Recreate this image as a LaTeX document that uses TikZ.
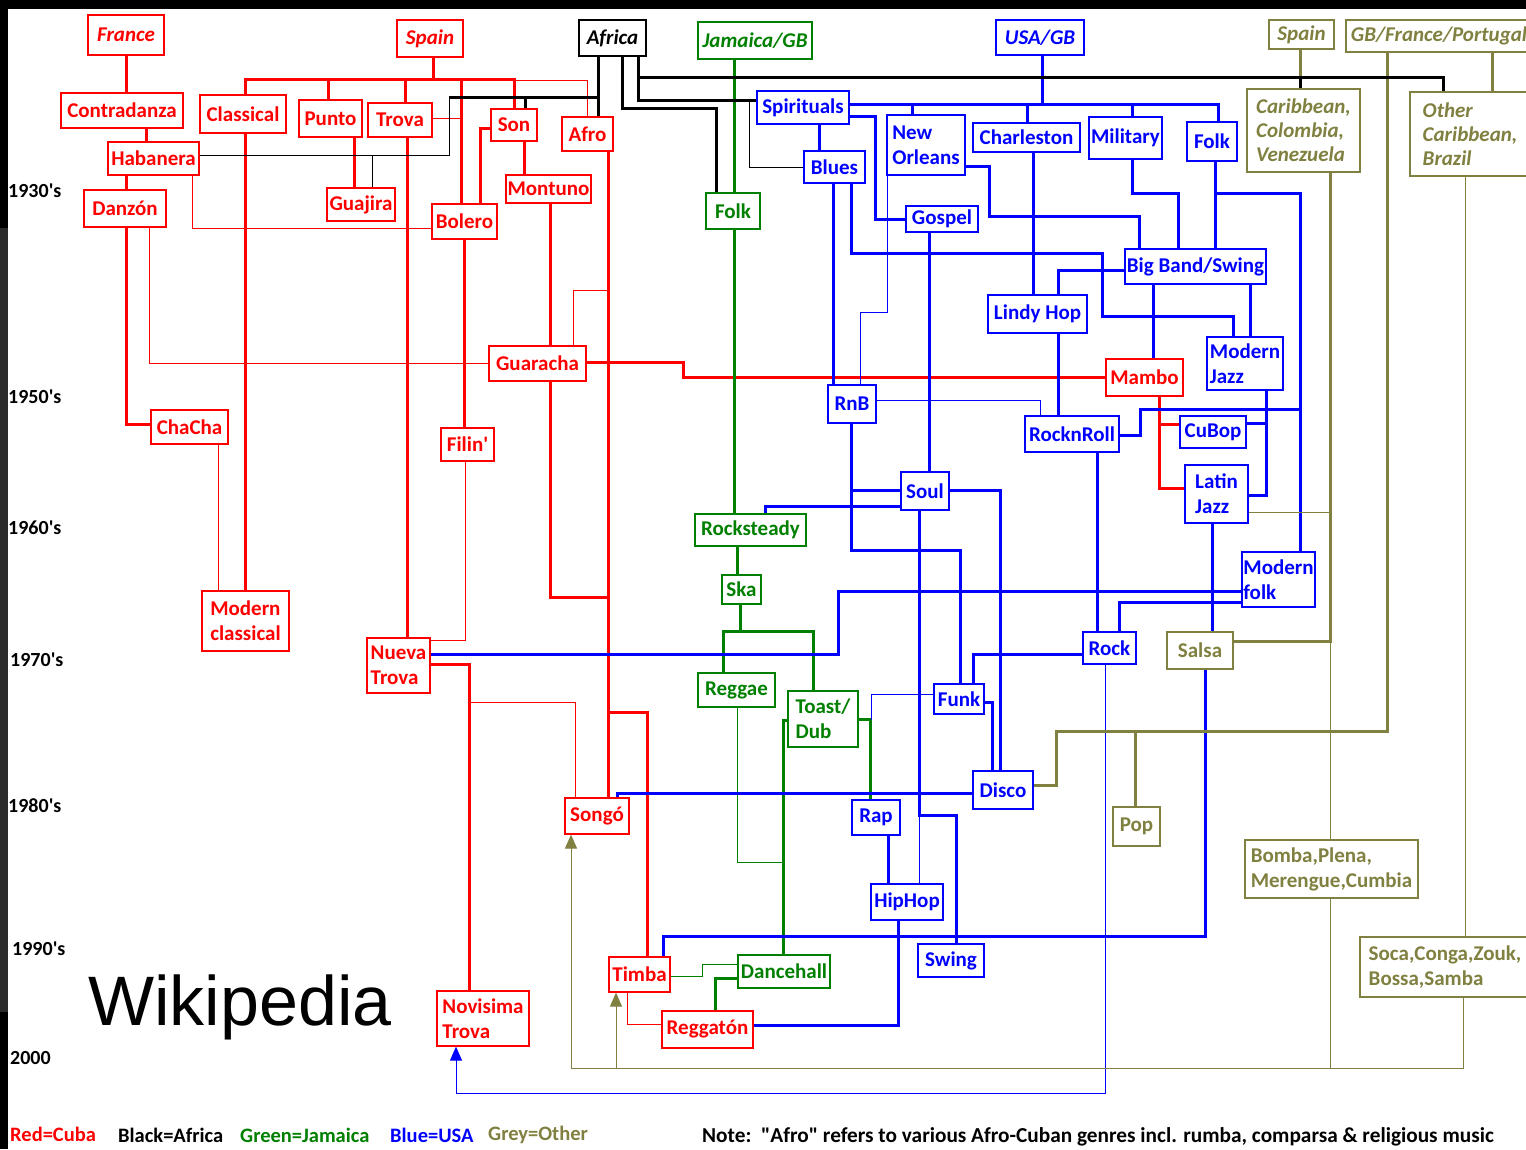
\documentclass[tikz,border=0pt]{standalone}
\usepackage{fontspec}
\setmainfont{Carlito}
\newfontfamily\wikifont{Liberation Sans}
\usetikzlibrary{arrows.meta,backgrounds}
\definecolor{cuba}{HTML}{FF0000}
\definecolor{usa}{HTML}{0000FF}
\definecolor{jam}{HTML}{008000}
\definecolor{oth}{HTML}{808040}
\definecolor{rim}{HTML}{2B2B2B}

\begin{document}
\begin{tikzpicture}[x=1pt,y=-1pt,
 gbox/.style={draw,line width=1.2pt,fill=white,inner sep=0pt,align=left,font=\bfseries\fontsize{21}{25}\selectfont},
 cu/.style={gbox,draw=cuba,text=cuba},
 af/.style={gbox,draw=black,text=black},
 ja/.style={gbox,draw=jam,text=jam},
 us/.style={gbox,draw=usa,text=usa},
 ot/.style={gbox,draw=oth,text=oth},
 orig/.style={font=\bfseries\itshape\fontsize{21}{24}\selectfont},
 wh/.style 2 args={minimum width=#1,minimum height=#2},
 decade/.style={anchor=west,inner sep=0pt,font=\bfseries\fontsize{20}{22}\selectfont},
 keytext/.style={anchor=west,inner sep=0pt,font=\bfseries\fontsize{20.5}{22}\selectfont},
 cuT/.style={cuba,line width=3pt}, cut/.style={cuba,line width=1pt},
 afT/.style={black,line width=3pt}, aft/.style={black,line width=1pt},
 jaT/.style={jam,line width=3pt}, jat/.style={jam,line width=1pt},
 usT/.style={usa,line width=3pt}, ust/.style={usa,line width=1pt},
 otT/.style={oth,line width=3pt}, ott/.style={oth,line width=1pt},
 arrowup/.style={-{Triangle[length=14pt,width=12pt]}}]
\useasboundingbox (0,0) rectangle (1526,1149);

% Cuba
\node[cu,orig,wh={76}{40}] (france) at (126,35) {France};
\node[cu,orig,wh={66}{37}] (spain) at (430,38.5) {Spain};
\node[cu,wh={122}{35}] (contra) at (122,110.5) {Contradanza};
\node[cu,wh={86}{38}] (classical) at (243,114) {Classical};
\node[cu,wh={63}{37}] (punto) at (330.5,118.5) {Punto};
\node[cu,wh={64}{34}] (trova) at (400,120) {Trova};
\node[cu,wh={91}{33}] (haban) at (153.5,158.5) {Habanera};
\node[cu,wh={82}{37}] (danzon) at (125,208.5) {Danzón};
\node[cu,wh={68}{33}] (guajira) at (361,204.5) {Guajira};
\node[cu,wh={46}{32}] (son) at (514,125) {Son};
\node[cu,wh={51}{34}] (afro) at (587.5,134) {Afro};
\node[cu,wh={85}{28}] (montuno) at (548.5,189) {Montuno};
\node[cu,wh={65}{35}] (bolero) at (464.5,221.5) {Bolero};
\node[cu,wh={97}{35}] (guaracha) at (537.5,363.5) {Guaracha};
\node[cu,wh={53}{33}] (filin) at (467.5,444.5) {Filin\textquotesingle};
\node[cu,wh={77}{34}] (chacha) at (189.5,427) {ChaCha};
\node[cu,wh={87}{60}] (modclass) at (245.5,621) {Modern\\classical};
\node[cu,wh={63}{55}] (nueva) at (398.5,665.5) {Nueva\\Trova};
\node[cu,wh={77}{37}] (mambo) at (1144.5,377.5) {Mambo};
\node[cu,wh={64}{36}] (songo) at (597,816) {Songó};
\node[cu,wh={61}{35}] (timba) at (639.5,974.5) {Timba};
\node[cu,wh={91}{37}] (reggaton) at (707.5,1029.5) {Reggatón};
\node[cu,wh={92}{55}] (novisima) at (483,1018.5) {Novisima\\Trova};

% Africa
\node[af,orig,wh={67}{36}] (africa) at (612.5,38) {Africa};

% Jamaica
\node[ja,orig,wh={114}{37}] (jamgb) at (755,40.5) {Jamaica/GB};
\node[ja,wh={54}{36}] (jfolk) at (733,211) {Folk};
\node[ja,wh={111}{32}] (rocksteady) at (750.5,530) {Rocksteady};
\node[ja,wh={39}{29}] (ska) at (741.5,589.5) {Ska};
\node[ja,wh={77}{34}] (reggae) at (736.5,690) {Reggae};
\node[ja,wh={70}{56}] (toast) at (823,719) {Toast/\\Dub};
\node[ja,wh={92}{33}] (dancehall) at (784,971.5) {Dancehall};

% USA
\node[us,orig,wh={88}{35}] (usagb) at (1040,37.5) {USA/GB};
\node[us,wh={92}{33}] (spirit) at (803,107.5) {Spirituals};
\node[us,wh={78}{60}] (neworl) at (926,145) {New\\Orleans};
\node[us,wh={107}{29}] (charles) at (1026.5,137.5) {Charleston};
\node[us,wh={73}{42}] (military) at (1125.5,138) {Military};
\node[us,wh={61}{32}] (blues) at (834.5,167) {Blues};
\node[us,wh={50}{39}] (ufolk) at (1212,141.5) {Folk};
\node[us,wh={72}{26}] (gospel) at (942,219) {Gospel};
\node[us,wh={141}{35}] (bigband) at (1195.5,266.5) {Big Band/Swing};
\node[us,wh={99}{38}] (lindy) at (1037.5,314) {Lindy Hop};
\node[us,wh={76}{53}] (modjazz) at (1245,363.5) {Modern\\Jazz};
\node[us,wh={48}{38}] (rnb) at (852,404) {RnB};
\node[us,wh={94}{36}] (rocknroll) at (1072,434) {RocknRoll};
\node[us,wh={66}{32}] (cubop) at (1213,432) {CuBop};
\node[us,wh={63}{58}] (latjazz) at (1216.5,494) {Latin\\Jazz};
\node[us,wh={48}{38}] (soul) at (925,491) {Soul};
\node[us,wh={73}{55}] (modfolk) at (1278.5,579.5) {Modern\\folk};
\node[us,wh={53}{32}] (rock) at (1109.5,648) {Rock};
\node[us,wh={50}{30}] (funk) at (959,699) {Funk};
\node[us,wh={60}{38}] (disco) at (1003,790) {Disco};
\node[us,wh={48}{35}] (rap) at (876,817.5) {Rap};
\node[us,wh={72}{36}] (hiphop) at (907,902) {HipHop};
\node[us,wh={66}{33}] (swing) at (951,960.5) {Swing};

% Other
\node[ot,orig,wh={65}{29}] (ospain) at (1301.5,34.5) {Spain};
\node[ot,orig,wh={186}{32}] (gbfp) at (1439,36) {GB/France/Portugal};
\node[ot,orig,wh={113}{83}] (carib) at (1303.5,130.5) {Caribbean,\\Colombia,\\Venezuela};
\node[ot,orig,wh={120}{84}] (othcarib) at (1470,134) {Other\\Caribbean,\\Brazil};
\node[ot,wh={66}{37}] (salsa) at (1200,650.5) {Salsa};
\node[ot,wh={47}{39}] (pop) at (1136.5,826.5) {Pop};
\node[ot,wh={173}{58}] (bomba) at (1331.5,869) {Bomba,Plena,\\Merengue,Cumbia};
\node[ot,wh={170}{60}] (soca) at (1445,967) {Soca,Conga,Zouk,\\Bossa,Samba};

% decades and key
\node[decade] (d30) at (8,191) {1930\textquotesingle s};
\node[decade] (d50) at (8,397) {1950\textquotesingle s};
\node[decade] (d60) at (8,528) {1960\textquotesingle s};
\node[decade] (d70) at (10,660) {1970\textquotesingle s};
\node[decade] (d80) at (8,806) {1980\textquotesingle s};
\node[decade] (d90) at (12,949) {1990\textquotesingle s};
\node[decade] (d00) at (10,1058) {2000};
\node[anchor=base west,inner sep=0pt,font=\wikifont\fontsize{70}{70}\selectfont] (wiki) at (88,1025) {Wikipedia};
\node[keytext,text=cuba] (kcuba) at (10,1134) {Red=Cuba};
\node[keytext] (kafrica) at (118,1135) {Black=Africa};
\node[keytext,text=jam] (kjam) at (240,1135) {Green=Jamaica};
\node[keytext,text=usa] (kusa) at (390,1135) {Blue=USA};
\node[keytext,text=oth] (koth) at (488,1135) {Grey=Other};
\node[keytext,font=\bfseries\fontsize{21.3}{22}\selectfont] (note) at (702,1137) {Note:~~\textquotedbl Afro\textquotedbl\ refers to various Afro-Cuban genres incl. rumba, comparsa \& religious music};

\begin{scope}[on background layer]
\fill[white] (0,0) rectangle (1526,1149);
\fill[black] (0,0) rectangle (1526,9);
\fill[black] (0,0) rectangle (8,228); \fill[rim] (0,228) rectangle (8,1012); \fill[black] (0,1012) rectangle (8,1149);

% Cuba lines
\draw[cuT] (france.south) -- (france.south |- contra.north);
\draw[cuT] (contra.south -| 146,0) -- (haban.north -| 146,0);
\draw[cuT] (haban.south -| 126,0) -- (danzon.north -| 126,0);
\draw[cuT] (spain.south -| 433,0) -- (433,79);
\draw[cuT] (classical.north -| 245,0) -- (245,79) -| (son.north -| 514,0);
\draw[cuT] (328,79) -- (punto.north -| 328,0); \draw[cuT] (405,79) -- (trova.north -| 405,0); \draw[cuT] (461,79) -- (bolero.north -| 461,0);
\draw[cut] (514,80) -| (afro.north -| 587,0);
\draw[cut] (trova.east |- 0,118) -- (461,118);
\draw[cuT] (classical.south -| 245,0) -- (modclass.north -| 245,0);
\draw[cuT] (punto.south -| 354,0) -- (guajira.north -| 354,0);
\draw[cuT] (son.south -| 524,0) -- (montuno.north -| 524,0);
\draw[cuT] (son.west |- 0,128) -| (bolero.north -| 480,0);
\draw[cuT] (montuno.south -| 550,0) -- (guaracha.north -| 550,0);
\draw[cuT] (afro.south -| 608,0) -- (songo.north -| 608,0);
\draw[cut] (608,290) -| (guaracha.north -| 573,0);
\draw[cuT] (guaracha.south -| 550,0) |- (608,597);
\draw[cuT] (guaracha.east |- 0,362) -| (683,377) -- (mambo.west |- 0,377);
\draw[cuT] (bolero.south -| 464,0) -- (filin.north -| 464,0);
\draw[cut] (filin.south -| 465,0) |- (nueva.east |- 0,640);
\draw[cuT] (trova.south -| 407,0) -- (nueva.north -| 407,0);
\draw[cut] (haban.south -| 192,0) |- (bolero.west |- 0,228);
\draw[cuT] (danzon.south -| 126,0) |- (chacha.west |- 0,424);
\draw[cut] (danzon.south -| 149,0) |- (guaracha.west |- 0,363);
\draw[cut] (chacha.south -| 218,0) -- (modclass.north -| 218,0);
\draw[cuT] (nueva.east |- 0,664) -| (novisima.north -| 469,0);
\draw[cut] (470,702) -| (songo.north -| 575,0);
\draw[cuT] (mambo.south -| 1159,0) |- (cubop.west |- 0,424);
\draw[cuT] (1159,424) |- (latjazz.west |- 0,488);
\draw[cut] (timba.south -| 627,0) |- (reggaton.west |- 0,1024);
\draw[cuT] (608,712) -| (timba.north -| 647,0);

% Jamaica lines
\draw[jaT] (jamgb.south -| 734,0) -- (jfolk.north -| 734,0);
\draw[jaT] (jfolk.south -| 734,0) -- (rocksteady.north -| 734,0);
\draw[jaT] (rocksteady.south -| 737,0) -- (ska.north -| 737,0);
\draw[jaT] (ska.south -| 740,0) -- (740,631);
\draw[jaT] (reggae.north -| 723,0) |- (813,631) -- (toast.north -| 813,0);
\draw[jat] (reggae.south -| 737,0) |- (783,862);
\draw[jaT] (toast.west |- 0,720) -| (dancehall.north -| 783,0);
\draw[jaT] (toast.east |- 0,719) -| (rap.north -| 870,0);
\draw[jat] (dancehall.west |- 0,964) -| (702,976) -- (timba.east |- 0,976);
\draw[jaT] (dancehall.west |- 0,978) -| (reggaton.north -| 715,0);

% USA lines
\draw[usT] (usagb.south -| 1042,0) -- (1042,104);
\draw[usT] (spirit.east |- 0,104) -| (ufolk.north -| 1218,0);
\draw[usT] (912,104) -- (neworl.north -| 912,0); \draw[usT] (1027,104) -- (charles.north -| 1027,0); \draw[usT] (1132,104) -- (military.north -| 1132,0);
\draw[usT] (spirit.south -| 819,0) -- (blues.north -| 819,0);
\draw[usT] (spirit.east |- 0,116) -| (875,219) -- (gospel.west |- 0,219);
\draw[ust] (neworl.south -| 887,0) |- (860,312) -- (rnb.north -| 860,0);
\draw[usT] (neworl.east |- 0,166) -| (989,216) -| (bigband.north -| 1139,0);
\draw[usT] (charles.south -| 1033,0) -- (lindy.north -| 1033,0);
\draw[usT] (military.south -| 1132,0) |- (1178,193) -- (bigband.north -| 1178,0);
\draw[usT] (ufolk.south -| 1215,0) -- (bigband.north -| 1215,0);
\draw[usT] (1215,193) -| (modfolk.north -| 1300,0);
\draw[usT] (blues.south -| 833,0) -- (rnb.north -| 833,0);
\draw[usT] (blues.south -| 851,0) |- (1102,253) |- (1233,316) -- (modjazz.north -| 1233,0);
\draw[usT] (bigband.west |- 0,270) -| (lindy.north -| 1058,0);
\draw[usT] (gospel.south -| 929,0) -- (soul.north -| 929,0);
\draw[usT] (lindy.south -| 1058,0) -- (rocknroll.north -| 1058,0);
\draw[usT] (bigband.south -| 1153,0) -- (mambo.north -| 1153,0);
\draw[usT] (bigband.south -| 1250,0) -- (modjazz.north -| 1250,0);
\draw[ust] (rnb.east |- 0,400) -| (rocknroll.north -| 1040,0);
\draw[usT] (rnb.south -| 851,0) |- (soul.west |- 0,490);
\draw[usT] (851,490) |- (960,550) -- (funk.north -| 960,0);
\draw[usT] (soul.west |- 0,506) -| (rocksteady.north -| 765,0);
\draw[usT] (soul.east |- 0,490) -| (disco.north -| 1000,0);
\draw[usT] (soul.south -| 919,0) |- (956,815) -- (swing.north -| 956,0);
\draw[ust] (919,815) -- (hiphop.north -| 919,0);
\draw[usT] (rocknroll.south -| 1097,0) -- (rock.north -| 1097,0);
\draw[usT] (rocknroll.east |- 0,435) -| (1140,409) -- (1300,409);
\draw[usT] (modjazz.south -| 1266,0) |- (cubop.east |- 0,423);
\draw[usT] (1266,423) |- (latjazz.east |- 0,495);
\draw[usT] (latjazz.south -| 1212,0) -- (salsa.north -| 1212,0);
\draw[usT] (modfolk.west |- 0,591) -| (838,654) -- (nueva.east |- 0,654);
\draw[usT] (modfolk.west |- 0,602) -| (rock.north -| 1119,0);
\draw[usT] (rock.west |- 0,654) -| (funk.north -| 973,0);
\draw[ust,arrowup] (rock.south -| 1105,0) |- (456,1093) -- (novisima.south -| 456,0);
\draw[usT] (salsa.south -| 1205,0) |- (663,936) -- (timba.north -| 663,0);
\draw[usT] (funk.east |- 0,702) -| (disco.north -| 992,0);
\draw[ust] (funk.west |- 0,694) -| (871,720);
\draw[usT] (disco.west |- 0,793) -| (songo.north -| 617,0);
\draw[usT] (rap.south -| 888,0) -- (hiphop.north -| 888,0);
\draw[usT] (hiphop.south -| 898,0) |- (reggaton.east |- 0,1025);

% Other lines
\draw[otT] (ospain.south -| 1300,0) -- (carib.north -| 1300,0);
\draw[otT] (gbfp.south -| 1492,0) -- (othcarib.north -| 1492,0);
\draw[otT] (gbfp.south -| 1387,0) |- (1056,731) |- (disco.east |- 0,785);
\draw[otT] (1135,731) -- (pop.north -| 1135,0);
\draw[otT] (carib.south -| 1330,0) |- (salsa.east |- 0,641);
\draw[ott] (1330,641) -- (bomba.north -| 1330,0);
\draw[ott] (latjazz.east |- 0,512) -- (1330,512);
\draw[ott] (othcarib.south -| 1465,0) -- (soca.north -| 1465,0);
\draw[ott,arrowup] (bomba.south -| 1330,0) |- (571,1068) -- (songo.south -| 571,0);
\draw[ott] (soca.south -| 1463,0) |- (1330,1068);
\draw[ott,arrowup] (616,1068) -- (timba.south -| 616,0);

% Africa lines
\draw[afT] (africa.south -| 598,0) -- (afro.north -| 598,0);
\draw[afT] (africa.south -| 622,0) |- (716,108) -- (jfolk.north -| 716,0);
\draw[afT] (africa.south -| 638,0) |- (spirit.west |- 0,100);
\draw[afT] (638,77) -| (othcarib.north -| 1443,0);
\draw[afT] (1300,77) -- (carib.north -| 1300,0);
\draw[afT] (598,97) -- (449,97); \draw[afT] (525,97) -- (son.north -| 525,0);
\draw[aft] (449,97) |- (haban.east |- 0,155);
\draw[aft] (372,155) -- (guajira.north -| 372,0);
\draw[aft] (749,100) |- (blues.west);
\end{scope}
\end{tikzpicture}
\end{document}
